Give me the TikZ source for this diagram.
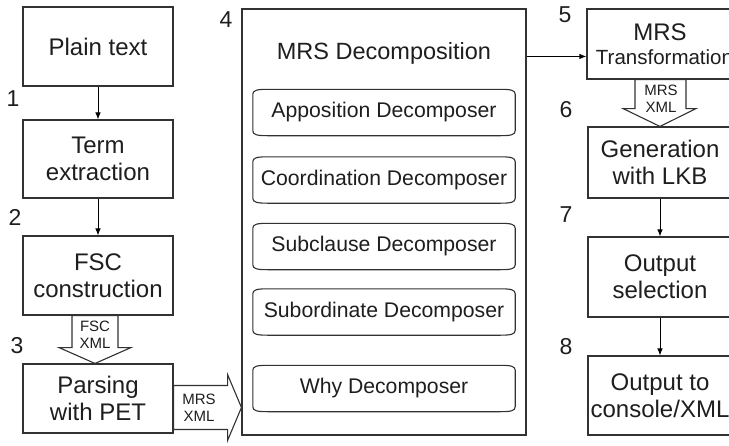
\documentclass[tikz,border=0pt]{standalone}
\usepackage{fontspec}
\setmainfont{Liberation Sans}
\usetikzlibrary{calc,arrows.meta}
\definecolor{ink}{RGB}{30,30,30}
\definecolor{edge}{RGB}{50,50,50}
\tikzset{
  boxline/.style={draw=edge, line width=1.1pt},
  stage/.style={boxline, fill=white, align=center, inner sep=0pt,
    text=ink, font=\fontsize{24}{27}\selectfont},
  leftstage/.style={stage, minimum width=150pt},
  rightstage/.style={stage, minimum width=144pt},
  decomp/.style={minimum width=262pt, minimum height=46pt, inner sep=0pt,
    text=ink, font=\fontsize{21.2}{24}\selectfont},
  stepno/.style={text=ink, font=\fontsize{23}{26}\selectfont, inner sep=0pt},
  flow/.style={draw=black, line width=0.9pt, -{Latex[length=7pt,width=5.5pt]}},
  fat/.style={boxline, fill=white, line join=miter},
  fatlabel/.style={align=center, inner sep=0pt, text=ink,
    font=\fontsize{15}{16.5}\selectfont},
}
% outline of a decomposer: flat sides, gently arched top and bottom
\newcommand\barrel[1]{%
  \draw[boxline]
    ($(#1.north west)+(0,5)$) .. controls ($(#1.north west)+(0,1)$) and ($(#1.north west)+(4,0)$) .. ($(#1.north west)+(15,0)$)
    -- ($(#1.north east)+(-15,0)$) .. controls ($(#1.north east)+(-4,0)$) and ($(#1.north east)+(0,1)$) .. ($(#1.north east)+(0,5)$)
    -- ($(#1.south east)+(0,-5)$) .. controls ($(#1.south east)+(0,-1)$) and ($(#1.south east)+(-4,0)$) .. ($(#1.south east)+(-15,0)$)
    -- ($(#1.south west)+(15,0)$) .. controls ($(#1.south west)+(4,0)$) and ($(#1.south west)+(0,-1)$) .. ($(#1.south west)+(0,-5)$)
    -- cycle;}
\begin{document}
\begin{tikzpicture}[x=1pt, y=-1pt]
  \useasboundingbox (0,0) rectangle (729,445);
  \clip (0,0) rectangle (729,445);

  % left column
  \node[leftstage, minimum height=79pt] (plain) at (98,46.5) {Plain text};
  \node[leftstage, minimum height=78pt] (term)  at (98,159)  {Term\\extraction};
  \node[leftstage, minimum height=79pt] (fsc)   at (98,275.5) {FSC\\construction};
  \node[leftstage, minimum height=69pt] (parse) at (98,398.5) {Parsing\\with PET};

  % decomposition block
  \node[stage, minimum width=284pt, minimum height=426pt] (mrsd) at (384,222) {};
  \node[text=ink, font=\fontsize{23.5}{26}\selectfont, inner sep=0pt] (mrsdtitle) at (384,53) {MRS Decomposition};
  \node[decomp] (d1) at (384,112.5) {Apposition Decomposer};
  \node[decomp] (d2) at (384,180)   {Coordination Decomposer};
  \node[decomp] (d3) at (384,246.5) {Subclause Decomposer};
  \node[decomp] (d4) at (384,312)   {Subordinate Decomposer};
  \node[decomp] (d5) at (384,388.5) {Why Decomposer};
  \foreach \d in {d1,d2,d3,d4,d5} {\barrel{\d}}

  % right column
  \node[rightstage, minimum height=70pt] (trans) at (660,44)
    {MRS\\[-3pt]{\fontsize{20.5}{24}\selectfont\hspace*{9pt}Transformation}};
  \node[rightstage, minimum height=71pt] (gen)    at (660,162.5) {Generation\\with LKB};
  \node[rightstage, minimum height=80pt] (outsel) at (660,277)   {Output\\selection};
  \node[rightstage, minimum height=79pt] (outcon) at (660,395.5) {Output to\\console/XML};

  % step numbers
  \node[stepno] (n1) at (13,99)  {1};
  \node[stepno] (n2) at (15,217) {2};
  \node[stepno] (n3) at (17,346) {3};
  \node[stepno] (n4) at (226,20) {4};
  \node[stepno] (n5) at (565,15) {5};
  \node[stepno] (n6) at (566,110) {6};
  \node[stepno] (n7) at (566,215) {7};
  \node[stepno] (n8) at (566,347) {8};

  % thin connectors
  \draw[flow] (plain) -- (term);
  \draw[flow] (term) -- (fsc);
  \draw[flow] ($(mrsd.north east)+(0,48)$) -- ($(trans.north west)+(0,48)$);
  \draw[flow] (gen) -- (outsel);
  \draw[flow] (outsel) -- (outcon);

  % block arrows carrying XML
  \draw[fat] ($(fsc.south)+(-26,0)$) -- ($(fsc.south)+(20,0)$) -- ($(fsc.south)+(20,32)$)
    -- ($(fsc.south)+(33,32)$) -- ($(parse.north)+(-3,0)$) -- ($(fsc.south)+(-39,32)$)
    -- ($(fsc.south)+(-26,32)$) -- cycle;
  \node[fatlabel] (fscxml) at (95,335) {FSC\\XML};

  \draw[fat] ($(trans.south)+(-25,0)$) -- ($(trans.south)+(26,0)$) -- ($(trans.south)+(26,29)$)
    -- ($(trans.south)+(36,29)$) -- (gen.north) -- ($(trans.south)+(-37,29)$)
    -- ($(trans.south)+(-25,29)$) -- cycle;
  \node[fatlabel] (transxml) at (661,99) {MRS\\XML};

  \draw[fat] ($(parse.east)+(0,-13)$) -- ($(parse.east)+(54,-13)$) -- ($(parse.east)+(54,-24)$)
    -- ($(mrsd.west |- parse.east)+(0,9)$) -- ($(parse.east)+(54,42)$) -- ($(parse.east)+(54,31)$)
    -- ($(parse.east)+(0,31)$) -- cycle;
  \node[fatlabel] (parsexml) at (199,408) {MRS\\XML};
\end{tikzpicture}
\end{document}
